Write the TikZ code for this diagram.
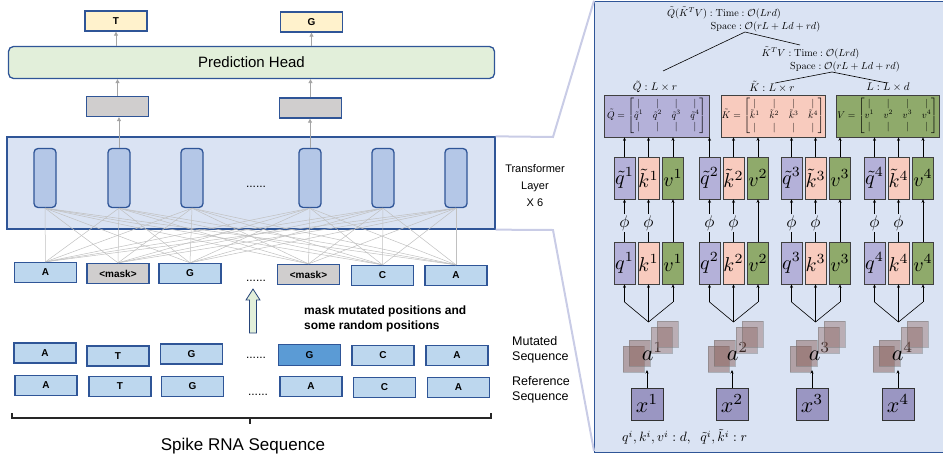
\documentclass[tikz,border=0pt]{standalone}
\usepackage{amsmath}
\usepackage{graphicx}
\usepackage[no-math]{fontspec}
\setmainfont{Liberation Sans}
\usetikzlibrary{arrows.meta}
\newcommand{\smath}[2]{\scalebox{#1}{$#2$}}
\definecolor{bord}{HTML}{2F5597}
\definecolor{tokfill}{HTML}{BDD7EE}
\definecolor{maskfill}{HTML}{D0CECE}
\definecolor{outfill}{HTML}{FFF2CC}
\definecolor{phfill}{HTML}{E2EFDA}
\definecolor{trfill}{HTML}{DAE3F3}
\definecolor{innerfill}{HTML}{B4C7E7}
\definecolor{darkG}{HTML}{5B9BD5}
\definecolor{qcol}{HTML}{B4B1D9}
\definecolor{kcol}{HTML}{F8CBBE}
\definecolor{vcol}{HTML}{8FAA6B}
\definecolor{xcol}{HTML}{9A96C2}
\definecolor{zoomline}{HTML}{C9CCE6}
\definecolor{greyarrow}{HTML}{A5A5A5}
\definecolor{connline}{HTML}{C0C0C0}
\definecolor{sqfill}{HTML}{8A605A}
\begin{document}
\begin{tikzpicture}[x=1pt,y=-1pt,
  tok/.style={draw=bord, line width=1.3pt, fill=tokfill, minimum width=62pt, minimum height=20pt, inner sep=0pt, font=\bfseries\fontsize{10}{12}\selectfont},
  masktok/.style={tok, fill=maskfill},
  outtok/.style={tok, fill=outfill},
  greytok/.style={tok, fill=maskfill},
  inner/.style={draw=bord, line width=1.3pt, fill=innerfill, rounded corners=4pt, minimum width=22pt, minimum height=59pt, inner sep=0pt},
  garrow/.style={draw=greyarrow, line width=0.8pt, -{Triangle[length=4pt,width=4pt]}},
  conn/.style={draw=connline, line width=0.5pt},
  dots/.style={font=\fontsize{12}{12}\selectfont, anchor=base, inner sep=0pt},
  blk/.style={draw=black, line width=0.6pt},
  blka/.style={blk, -{Stealth[length=3.5pt,width=3pt]}},
  qkv/.style={draw=black!75, line width=0.6pt, minimum width=21pt, minimum height=42pt, inner sep=0pt},
  qb/.style={qkv, fill=qcol},
  kb/.style={qkv, fill=kcol},
  vb/.style={qkv, fill=vcol},
  phinode/.style={inner sep=1pt},
  mat/.style={draw=black!75, line width=0.6pt, minimum height=42pt, inner sep=0pt},
  mlabel/.style={inner sep=1pt},
  cplx/.style={inner sep=0pt},
  asq/.style={fill=sqfill, fill opacity=0.5, draw=black!55, draw opacity=0.45, line width=0.5pt},
  anode/.style={inner sep=0pt},
  xbox/.style={draw=black!80, line width=0.6pt, fill=xcol, minimum width=32pt, minimum height=32pt, inner sep=0pt}
]
\useasboundingbox (0,0) rectangle (943,458);

% ---------- right panel background ----------
\node[draw=bord, line width=1.3pt, fill=trfill, minimum width=360pt, minimum height=451pt, inner sep=0pt, anchor=north west] (panel) at (594,0.7) {};

% ---------- left: transformer ----------
\node[draw=bord, line width=1.3pt, fill=trfill, minimum width=488pt, minimum height=92pt, inner sep=0pt] (trans) at (251,183) {};
\coordinate (zt) at (553,137);
\coordinate (zb) at (553,230);
\coordinate (pbl) at (594,451);
\draw[zoomline, line width=2pt] (trans.north east) -- (zt) -- (panel.north west);
\draw[zoomline, line width=2pt] (trans.south east) -- (zb) -- (pbl);

\foreach \i/\x in {1/45,2/119,3/192,4/310,5/383,6/456}{
  \node[inner] (tb\i) at (\x,178) {};
}
\node[dots] (tdots) at (256,187) {......};
\node[font=\fontsize{11}{17}\selectfont, align=center] (tlabel) at (535,186) {Transformer\\Layer\\X 6};

% masked tokens row
\node[tok] (m1) at (45.5,272.5) {A};
\node[masktok] (m2) at (118,273.5) {<mask>};
\node[tok] (m3) at (190,273.5) {G};
\node[dots] (mdots) at (256,281) {......};
\node[masktok] (m4) at (308.5,274.5) {<mask>};
\node[tok] (m5) at (382.5,275.5) {C};
\node[tok] (m6) at (456,275.5) {A};

\foreach \i in {1,...,6}{
  \foreach \j in {1,...,6}{
    \draw[conn] (tb\i.south) -- (m\j.north);
  }
}

% outputs
\node[greytok] (g1) at (117.5,106.5) {};
\node[greytok] (g2) at (310.5,108) {};
\node[draw=bord, line width=1.3pt, fill=phfill, rounded corners=5pt, minimum width=486pt, minimum height=32pt, inner sep=0pt, font=\fontsize{15}{18}\selectfont] (ph) at (251.5,62.5) {Prediction Head};
\node[outtok] (o1) at (116,21) {T};
\node[outtok] (o2) at (311.5,22) {G};
\draw[garrow] (tb2.north) -- (tb2.north |- g1.south);
\draw[garrow] (tb4.north) -- (tb4.north |- g2.south);
\draw[garrow] (g1.north) -- (g1.north |- ph.south);
\draw[garrow] (g2.north) -- (g2.north |- ph.south);
\draw[garrow] (o1.south |- ph.north) -- (o1.south);
\draw[garrow] (o2.south |- ph.north) -- (o2.south);

% green arrow
\draw[draw=bord!80!black, line width=0.8pt, fill=phfill, line join=miter]
  (249.5,333) -- (249.5,300) -- (246,300) -- (253,289) -- (260,300) -- (256.5,300) -- (256.5,333) -- cycle;
\node[anchor=west, align=left, inner sep=0pt, font=\bfseries\fontsize{12}{15}\selectfont] (masktext) at (304,318.5) {mask mutated positions and\\some random positions};

% mutated row
\node[tok] (u1) at (45,353) {A};
\node[tok] (u2) at (118,356) {T};
\node[tok] (u3) at (191.5,354) {G};
\node[dots] (udots) at (256,358) {......};
\node[tok, fill=darkG, minimum height=21pt] (u4) at (309.5,355) {G};
\node[tok] (u5) at (383,355.5) {C};
\node[tok] (u6) at (457,355.5) {A};
\node[anchor=west, align=left, inner sep=0pt, font=\fontsize{12.5}{15}\selectfont] (mutlab) at (512,349.5) {Mutated\\Sequence};

% reference row
\node[tok] (r1) at (46,385.5) {A};
\node[tok] (r2) at (120,386.5) {T};
\node[tok] (r3) at (192.5,386.5) {G};
\node[dots] (rdots) at (258,395) {......};
\node[tok] (r4) at (311,386.5) {A};
\node[tok] (r5) at (384.5,387.5) {C};
\node[tok] (r6) at (458.5,387.5) {A};
\node[anchor=west, align=left, inner sep=0pt, font=\fontsize{12.5}{15}\selectfont] (reflab) at (512,390) {Reference\\Sequence};

% bracket
\coordinate (bl) at (12,413);
\coordinate (br) at (491,413);
\draw[line width=1.5pt, black!85] (bl) -- (12,418) -- (491,418) -- (br);
\draw[line width=2pt, black!85] (250,418) -- (250,424);
\node[font=\fontsize{17}{20}\selectfont] (spike) at (243,446) {Spike RNA Sequence};

% ---------- right panel content ----------
\node[cplx] (t1) at (724,13) {\smath{1.02}{\tilde{Q}(\tilde{K}^T V) : \mathrm{Time} : \mathcal{O}(Lrd)}};
\node[cplx] (t2) at (765.5,27) {\smath{1.02}{\mathrm{Space} : \mathcal{O}(rL + Ld + rd)}};
\node[cplx] (t3) at (810.5,53) {\smath{1.02}{\tilde{K}^T V : \mathrm{Time} : \mathcal{O}(Lrd)}};
\node[cplx] (t4) at (845,67) {\smath{1.02}{\mathrm{Space} : \mathcal{O}(rL + Ld + rd)}};
\coordinate (ap1) at (745,32);
\coordinate (e1) at (663,71);
\coordinate (e2) at (800,45);
\coordinate (ap2) at (832,72);
\coordinate (e3) at (775,83);
\coordinate (e4) at (887,83);
\draw[blk] (e1) -- (ap1) -- (e2);
\draw[blk] (e3) -- (ap2) -- (e4);

\node[mlabel] (Ql) at (655,87) {\smath{1.1}{\tilde{Q} : L \times r}};
\node[mlabel] (Kl) at (772,87) {\smath{1.1}{\tilde{K} : L \times r}};
\node[mlabel] (Vl) at (888,87) {\smath{1.1}{L : L \times d}};

\setlength{\arraycolsep}{5pt}
\node[mat, fill=qcol, minimum width=105pt] (Qm) at (656.5,116) {\smath{0.97}{\tilde{Q} = \begin{bmatrix} | & | & | & | \\ \tilde{q}^1 & \tilde{q}^2 & \tilde{q}^3 & \tilde{q}^4 \\ | & | & | & | \end{bmatrix}}};
\node[mat, fill=kcol, minimum width=104pt] (Km) at (773,116) {\smath{0.97}{\tilde{K} = \begin{bmatrix} | & | & | & | \\ \tilde{k}^1 & \tilde{k}^2 & \tilde{k}^3 & \tilde{k}^4 \\ | & | & | & | \end{bmatrix}}};
\node[mat, fill=vcol, minimum width=103pt] (Vm) at (887.5,116) {\smath{0.97}{V = \begin{bmatrix} | & | & | & | \\ v^1 & v^2 & v^3 & v^4 \\ | & | & | & | \end{bmatrix}}};

\foreach \g/\qx/\xx in {1/624.5/647,2/709.5/732,3/791.5/812,4/874.5/898}{
  \pgfmathsetmacro\kx{\qx+24}
  \pgfmathsetmacro\vx{\qx+48.5}
  % a squares
  \fill[asq] ({\kx-25.5},346) rectangle ++(21,26);
  \fill[asq] ({\kx-19.5},340) rectangle ++(21,26);
  \node[anode] (a\g) at ({\kx+4},352) {\smath{2.2}{a^{\g}}};
  \fill[asq, fill opacity=0.4] ({\kx+2.5},327) rectangle ++(21,26);
  \fill[asq, fill opacity=0.4] ({\kx+8.5},321) rectangle ++(21,26);
  % x
  \node[xbox] (x\g) at (\xx,404) {\smath{2.2}{x^{\g}}};
  \coordinate (ab\g) at (\xx,370);
  \draw[blka] (x\g.north) -- (ab\g);
  % lower row
  \node[qb] (q\g) at (\qx,263) {\makebox[0pt]{\smath{2}{q^{\g}}}};
  \node[kb] (k\g) at (\kx,263) {\makebox[0pt]{\smath{2}{k^{\g}}}};
  \node[vb] (v\g) at (\vx,263) {\makebox[0pt]{\smath{2}{v^{\g}}}};
  % upper row
  \node[qb] (qt\g) at (\qx,178) {\makebox[0pt]{\smath{2}{\tilde{q}^{\g}}}};
  \node[kb] (kt\g) at (\kx,178) {\makebox[0pt]{\smath{2}{\tilde{k}^{\g}}}};
  \node[vb] (vt\g) at (\vx,178) {\makebox[0pt]{\smath{2}{v^{\g}}}};
  % fan
  \coordinate (ap\g) at (\kx,322);
  \coordinate (fq\g) at (\qx,302);
  \coordinate (fv\g) at (\vx,302);
  \draw[blk] (fq\g) -- (ap\g) -- (fv\g);
  \draw[blka] (fq\g) -- (q\g.south);
  \draw[blka] (ap\g) -- (k\g.south);
  \draw[blka] (fv\g) -- (v\g.south);
  % phi
  \node[phinode] (pq\g) at (\qx,223) {\smath{1.7}{\phi}};
  \node[phinode] (pk\g) at (\kx,223) {\smath{1.7}{\phi}};
  \draw[blk] (q\g.north) -- (pq\g.south);
  \draw[blka] (pq\g.north) -- (qt\g.south);
  \draw[blk] (k\g.north) -- (pk\g.south);
  \draw[blka] (pk\g.north) -- (kt\g.south);
  \draw[blka] (v\g.north) -- (vt\g.south);
  % up to matrices
  \draw[blka] (qt\g.north) -- (qt\g.north |- Qm.south);
  \draw[blka] (kt\g.north) -- (kt\g.north |- Qm.south);
  \draw[blka] (vt\g.north) -- (vt\g.north |- Qm.south);
}
\node[anchor=west, inner sep=0pt] (dims) at (622,437) {\smath{1.35}{q^i, k^i, v^i : d,\;\; \tilde{q}^i, \tilde{k}^i : r}};
\end{tikzpicture}
\end{document}
